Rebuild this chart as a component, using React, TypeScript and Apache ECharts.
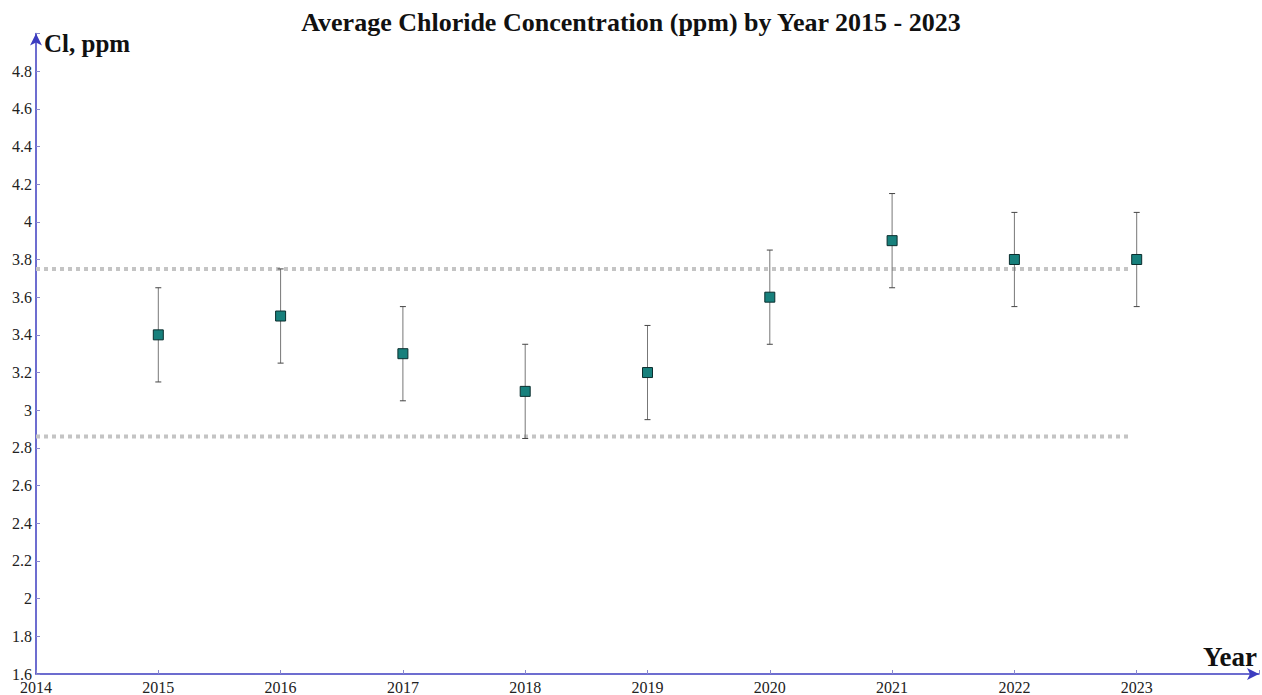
import React, { useEffect, useRef } from "react";
import * as echarts from "echarts";

const years = [2015, 2016, 2017, 2018, 2019, 2020, 2021, 2022, 2023];
const means = [3.4, 3.5, 3.3, 3.1, 3.2, 3.6, 3.9, 3.8, 3.8];
const lows = [3.15, 3.25, 3.05, 2.85, 2.95, 3.35, 3.65, 3.55, 3.55];
const highs = [3.65, 3.75, 3.55, 3.35, 3.45, 3.85, 4.15, 4.05, 4.05];
const upperLimit = 3.75;
const lowerLimit = 2.86;
const limitSpan = [2014, 2022.95];

const SERIF = "'Liberation Serif', 'Times New Roman', serif";

export default function App() {
  const ref = useRef<HTMLDivElement>(null);
  useEffect(() => {
    document.body.style.margin = "0";
    const chart = echarts.init(ref.current!, null, { renderer: "svg" });
    const axisColor = "#3c3cc0";
    chart.setOption({
      animation: false,
      backgroundColor: "#ffffff",
      textStyle: { fontFamily: SERIF },
      title: {
        text: "Average Chloride Concentration (ppm) by Year 2015 - 2023",
        left: "center",
        top: 4,
        textStyle: { fontFamily: SERIF, fontWeight: "bold", fontSize: 26, color: "#111" },
      },
      grid: { left: 36, top: 33.4, width: 1223, height: 640.6, containLabel: false },
      xAxis: {
        type: "value",
        min: 2014,
        max: 2024,
        interval: 1,
        splitLine: { show: false },
        axisLine: { lineStyle: { color: axisColor, width: 1.5 }, symbol: ["none", "arrow"], symbolSize: [9, 12] },
        axisTick: { inside: true, length: 4, lineStyle: { color: "#8888cc" } },
        axisLabel: {
          color: "#222",
          fontSize: 16,
          fontFamily: SERIF,
          margin: 5,
          formatter: (v: number) => (v >= 2024 ? "" : String(v)),
        },
      },
      yAxis: {
        type: "value",
        min: 1.6,
        max: 5.0,
        interval: 0.2,
        splitLine: { show: false },
        axisLine: { lineStyle: { color: axisColor, width: 1.5 }, symbol: ["none", "arrow"], symbolSize: [9, 12] },
        axisTick: { inside: true, length: 4, lineStyle: { color: "#8888cc" } },
        axisLabel: {
          color: "#222",
          fontSize: 16,
          fontFamily: SERIF,
          margin: 4,
          formatter: (v: number) => (v >= 4.99 ? "" : String(Math.round(v * 10) / 10)),
        },
      },
      graphic: [
        {
          type: "text",
          left: 44,
          top: 31,
          style: { text: "Cl, ppm", fontFamily: SERIF, fontWeight: "bold", fontSize: 25, fill: "#111" },
        },
        {
          type: "text",
          left: 1203,
          top: 643,
          style: { text: "Year", fontFamily: SERIF, fontWeight: "bold", fontSize: 27, fill: "#111" },
        },
      ],
      series: [
        {
          type: "line",
          data: limitSpan.map((x) => [x, upperLimit]),
          symbol: "none",
          lineStyle: { color: "#c4c4c4", width: 4, type: [4, 4] },
          z: 1,
        },
        {
          type: "line",
          data: limitSpan.map((x) => [x, lowerLimit]),
          symbol: "none",
          lineStyle: { color: "#c4c4c4", width: 4, type: [4, 4] },
          z: 1,
        },
        {
          type: "custom",
          data: years.map((y, i) => [y, lows[i], highs[i]]),
          renderItem: (params: any, api: any) => {
            const x = api.value(0);
            const lo = api.coord([x, api.value(1)]);
            const hi = api.coord([x, api.value(2)]);
            const cap = 3;
            const style = { stroke: "#777", lineWidth: 1 };
            return {
              type: "group",
              children: [
                { type: "line", shape: { x1: lo[0], y1: lo[1], x2: hi[0], y2: hi[1] }, style },
                { type: "line", shape: { x1: lo[0] - cap, y1: lo[1], x2: lo[0] + cap, y2: lo[1] }, style: { stroke: "#444", lineWidth: 1 } },
                { type: "line", shape: { x1: hi[0] - cap, y1: hi[1], x2: hi[0] + cap, y2: hi[1] }, style: { stroke: "#444", lineWidth: 1 } },
              ],
            };
          },
          z: 2,
        },
        {
          type: "scatter",
          data: years.map((y, i) => [y, means[i]]),
          symbol: "rect",
          symbolSize: 10,
          itemStyle: { color: "#17807c", borderColor: "#0b2e2e", borderWidth: 1, opacity: 1 },
          z: 3,
        },
      ],
    });
    return () => chart.dispose();
  }, []);
  return <div ref={ref} style={{ width: 1262, height: 695 }} />;
}
